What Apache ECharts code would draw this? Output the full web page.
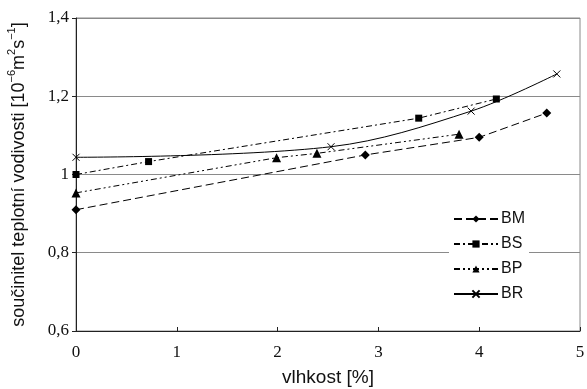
<!DOCTYPE html>
<html>
<head>
<meta charset="utf-8">
<script src="https://cdn.jsdelivr.net/npm/echarts@6/dist/echarts.min.js"></script>
<style>html,body{margin:0;padding:0;background:#fff}#c{width:587px;height:389px}</style>
</head>
<body>
<div id="c"></div>
<script>
const seriesNames = ['BM', 'BS', 'BP', 'BR'];
const bmData = [[0, 0.91], [2.87, 1.05], [4.0, 1.095], [4.67, 1.157]];
const bsData = [[0, 1.0], [0.72, 1.033], [3.4, 1.144], [4.17, 1.193]];
const bpData = [[0, 0.953], [1.99, 1.043], [2.39, 1.054], [3.8, 1.103]];
const brData = [[0, 1.044], [2.53, 1.071], [3.92, 1.162], [4.77, 1.257]];
const xTicks = [0, 1, 2, 3, 4, 5];
const yTicks = [0.6, 0.8, 1.0, 1.2, 1.4];

const chart = echarts.init(document.getElementById('c'));
const serif = 'Liberation Serif';
const sans = 'Liberation Sans';
function mk(name, data, symbol, size, dash, extra) {
  return Object.assign({
    name: name, type: 'line', data: data, symbol: symbol, symbolSize: size,
    showSymbol: true,
    lineStyle: { color: '#000', width: 1, type: dash },
    itemStyle: { color: '#000' },
    emphasis: { disabled: true },
    z: 3
  }, extra || {});
}
chart.setOption({
  animation: false,
  backgroundColor: '#fff',
  grid: { left: 76, right: 7, top: 18, bottom: 58, show: true, borderColor: '#8a8a8a', borderWidth: 1,
          containLabel: false, outerBoundsMode: 'none' },
  legend: {
    orient: 'vertical', left: 449, top: 207, itemWidth: 44, itemHeight: 9, itemGap: 9,
    backgroundColor: '#fff', padding: [4, 4, 8, 4],
    textStyle: { fontFamily: sans, fontSize: 16, color: '#111', padding: [0, 0, 0, -2] },
    data: seriesNames
  },
  xAxis: {
    type: 'value', min: xTicks[0], max: xTicks[xTicks.length - 1], interval: 1,
    name: 'vlhkost [%]', nameLocation: 'middle', nameGap: 37,
    nameTextStyle: { fontFamily: sans, fontSize: 19, color: '#111' },
    axisLine: { lineStyle: { color: '#222', width: 1 } },
    axisTick: { inside: true, length: 4, lineStyle: { color: '#222' } },
    axisLabel: { fontFamily: serif, fontSize: 17, color: '#111', margin: 13 },
    splitLine: { show: false }
  },
  yAxis: {
    type: 'value', min: yTicks[0], max: yTicks[yTicks.length - 1], interval: 0.2,
    name: '{n|součinitel teplotní vodivosti [10}{s|−6}{n|m}{s|2}{n|s}{s|−1}{n|]}',
    nameLocation: 'middle', nameGap: 48, nameRotate: 90,
    nameTextStyle: {
      rich: {
        n: { fontFamily: sans, fontSize: 18, color: '#111', lineHeight: 22, verticalAlign: 'bottom' },
        s: { fontFamily: sans, fontSize: 11, color: '#111', lineHeight: 22, verticalAlign: 'top' }
      }
    },
    axisLine: { show: true, lineStyle: { color: '#222', width: 1 } },
    axisTick: { show: true, length: 4, lineStyle: { color: '#222' } },
    axisLabel: {
      fontFamily: serif, fontSize: 17, color: '#111', margin: 7,
      formatter: v => String(+v.toFixed(1)).replace('.', ',')
    },
    splitLine: { show: true, lineStyle: { color: '#8a8a8a', width: 1.2 } }
  },
  series: [
    mk('BM', bmData, 'diamond', 9, [8, 4]),
    mk('BS', bsData, 'rect', 7, [6, 3, 2, 3]),
    mk('BP', bpData, 'triangle', 9, [6, 3, 2, 3, 2, 3]),
    mk('BR', brData, 'path://M0,0L10,10M10,0L0,10', 7, 'solid', {
      smooth: 0.35,
      itemStyle: { color: '#000', borderColor: '#000', borderWidth: 1 }
    })
  ]
});
</script>
</body>
</html>
